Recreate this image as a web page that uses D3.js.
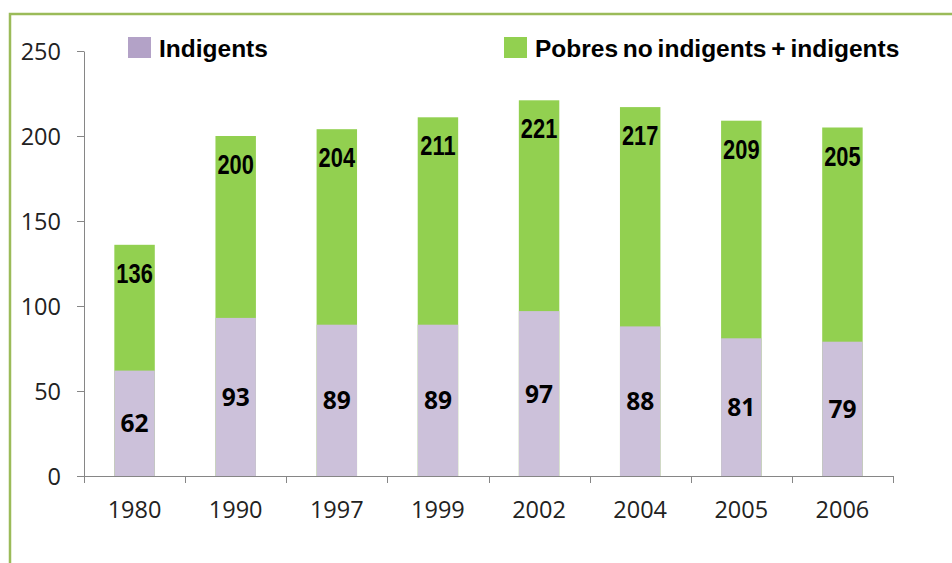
<!DOCTYPE html>
<html><head><meta charset="utf-8">
<script src="https://cdn.jsdelivr.net/npm/d3@7"></script>
<style>body{margin:0;background:#fff}svg{display:block}</style>
</head><body>
<script>
const years = ["1980","1990","1997","1999","2002","2004","2005","2006"];
const indigents = [62,93,89,89,97,88,81,79];
const pobresTotal = [136,200,204,211,221,217,209,205];
const yTicks = [0,50,100,150,200,250];
const seriesNames = ["Indigents","Pobres no indigents + indigents"];

const W=952,H=563;
const svg=d3.select("body").append("svg").attr("width",W).attr("height",H);
// frame
svg.append("rect").attr("x",10).attr("y",14).attr("width",W+20).attr("height",H+20)
  .attr("fill","none").attr("stroke","#9BBB59").attr("stroke-width",2.5);

const x=d3.scaleBand().domain(years).range([84,893]).paddingInner(0.6).paddingOuter(0.3);
const y=d3.scaleLinear().domain([0,250]).range([476,51]);
const axisCol="#868686";
const tickFont="'Open Sans', sans-serif";

// green bars (total)
svg.selectAll("rect.g").data(years).join("rect").attr("class","g")
  .attr("x",d=>x(d)).attr("width",x.bandwidth())
  .attr("y",(d,i)=>y(pobresTotal[i])).attr("height",(d,i)=>y(0)-y(pobresTotal[i]))
  .attr("fill","#92D050");
// purple bars
svg.selectAll("rect.p").data(years).join("rect").attr("class","p")
  .attr("x",d=>x(d)).attr("width",x.bandwidth())
  .attr("y",(d,i)=>y(indigents[i])).attr("height",(d,i)=>y(0)-y(indigents[i]))
  .attr("fill","#CCC1DA");

// y axis
const ya=svg.append("g").attr("transform","translate(84,0)")
  .call(d3.axisLeft(y).tickValues(yTicks).tickSize(7).tickPadding(16).tickSizeOuter(0));
ya.select(".domain").attr("stroke",axisCol);
ya.selectAll(".tick line").attr("stroke",axisCol);
ya.selectAll(".tick text").attr("font-family",tickFont).attr("font-size",23.5).attr("fill","#222")
  .attr("dy","0.36em");

// x axis
const boundaries = years.map(d=>x(d)-x.step()*x.paddingInner()/2).concat([893]);
svg.append("line").attr("x1",84).attr("x2",893).attr("y1",476.5).attr("y2",476.5).attr("stroke",axisCol);
svg.selectAll("line.xt").data(boundaries).join("line").attr("class","xt")
  .attr("x1",d=>Math.round(d)+0.5).attr("x2",d=>Math.round(d)+0.5).attr("y1",476).attr("y2",483).attr("stroke",axisCol);
svg.selectAll("text.xl").data(years).join("text").attr("class","xl")
  .attr("x",d=>x(d)+x.bandwidth()/2).attr("y",518).attr("text-anchor","middle")
  .attr("font-family",tickFont).attr("font-size",23.5).attr("fill","#222").text(d=>d);

// labels
svg.selectAll("text.gl").data(years).join("text").attr("class","gl")
  .attr("transform",(d,i)=>`translate(${x(d)+x.bandwidth()/2},${y(pobresTotal[i])+38}) scale(0.78,1)`)
  .attr("text-anchor","middle").attr("font-family","'Liberation Sans',Arial,sans-serif")
  .attr("font-weight","bold").attr("font-size",28).attr("fill","#000").text((d,i)=>pobresTotal[i]);
svg.selectAll("text.pl").data(years).join("text").attr("class","pl")
  .attr("x",d=>x(d)+x.bandwidth()/2).attr("y",(d,i)=>y(indigents[i]/2)+9)
  .attr("text-anchor","middle").attr("font-family",tickFont)
  .attr("font-weight","bold").attr("font-size",24.5).attr("fill","#000").text((d,i)=>indigents[i]);

// legend
const leg=[{x:128,c:"#B3A2C7",t:seriesNames[0]},{x:504,c:"#92D050",t:seriesNames[1]}];
leg.forEach(l=>{
  svg.append("rect").attr("x",l.x).attr("y",37).attr("width",23).attr("height",21).attr("fill",l.c);
  svg.append("text").attr("x",l.x+31).attr("y",57).attr("font-family","'Liberation Sans',Arial,sans-serif")
    .attr("font-weight","bold").attr("font-size",24.5).attr("word-spacing",-2).attr("fill","#000").text(l.t);
});
</script>
</body></html>
